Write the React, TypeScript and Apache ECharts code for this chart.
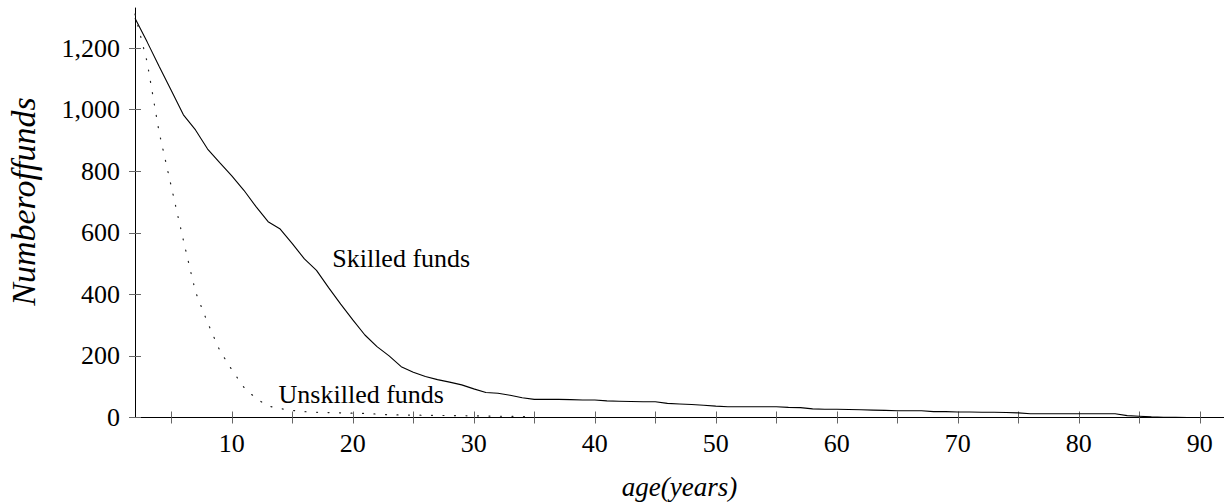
import React, { useEffect, useRef } from "react";
import * as echarts from "echarts";

// Surviving funds by age, skilled managers
const skilledAges = [
  2, 3, 4, 5, 6, 7, 8, 9, 10, 11, 12, 13, 14, 15, 16, 17, 18, 19, 20, 21, 22, 23, 24, 25, 26,
  27, 28, 29, 30, 31, 32, 33, 34, 35, 36, 37, 38, 39, 40, 41, 42, 43, 44, 45, 46, 47, 48, 49,
  50, 51, 52, 53, 54, 55, 56, 57, 58, 59, 60, 61, 62, 63, 64, 65, 66, 67, 68, 69, 70, 71, 72,
  73, 74, 75, 76, 77, 78, 79, 80, 81, 82, 83, 84, 85, 86, 87, 88, 89, 90,
];
const skilledFunds = [
  1297, 1220, 1140, 1062, 983, 934, 872, 828, 785, 738, 685, 636, 612, 565, 515, 478, 422, 368,
  317, 268, 230, 200, 165, 147, 133, 123, 115, 106, 93, 81, 79, 72, 64, 59, 59, 59, 58, 57, 57,
  54, 53, 52, 51, 51, 46, 44, 42, 40, 37, 35, 35, 35, 35, 35, 33, 32, 28, 27, 27, 26, 25, 24,
  23, 22, 22, 22, 19, 19, 18, 18, 17, 17, 16, 15, 12, 12, 12, 12, 12, 12, 12, 12, 6, 4, 2, 1,
  0.5, 0, 0,
];

// Surviving funds by age, unskilled managers
const unskilledAges = [
  2, 3, 4, 5, 6, 7, 8, 9, 10, 11, 12, 13, 14, 15, 16, 17, 18, 19, 20, 21, 22, 23, 24, 25, 26,
  27, 28, 29, 30, 31, 32, 33, 34, 35,
];
const unskilledFunds = [
  1310, 1155, 925, 750, 575, 408, 308, 218, 155, 98, 62, 37, 29, 23, 19, 17, 16, 15, 14, 13, 11,
  9, 8, 8, 7, 7, 6, 6, 5, 5, 4, 4, 3, 3,
];

const xTickValues = [5, 10, 15, 20, 25, 30, 35, 40, 45, 50, 55, 60, 65, 70, 75, 80, 85, 90];
const xLabelValues = [10, 20, 30, 40, 50, 60, 70, 80, 90];
const yTickValues = [0, 200, 400, 600, 800, 1000, 1200];

// Curve annotations, anchored in data coordinates (age, funds)
const curveNotes = [
  { text: "Skilled funds", age: 24.0, funds: 518 },
  { text: "Unskilled funds", age: 20.7, funds: 76 },
];

const SERIF = "Liberation Serif";

export default function App() {
  const ref = useRef<HTMLDivElement>(null);

  useEffect(() => {
    const chart = echarts.init(ref.current!, null, { renderer: "svg" });

    const tickStyle = { color: "#666", width: 1 };
    const labelStyle = { fontFamily: SERIF, fontSize: 26, color: "#000" };

    chart.setOption({
      animation: false,
      backgroundColor: "#fff",
      textStyle: { fontFamily: SERIF },
      grid: {
        left: 135,
        right: 0,
        top: 8,
        bottom: 84.5,
        containLabel: false,
        outerBoundsMode: "none",
      },
      xAxis: [
        {
          type: "value",
          min: 2,
          max: 92,
          position: "bottom",
          axisLine: { show: true, onZero: false, lineStyle: { color: "#000", width: 1 } },
          axisTick: { show: true, length: 6, inside: false, customValues: xTickValues, lineStyle: tickStyle },
          axisLabel: { ...labelStyle, margin: 13, customValues: xLabelValues },
          splitLine: { show: false },
          name: "age(years)",
          nameLocation: "middle",
          nameGap: 56,
          nameTextStyle: { fontFamily: SERIF, fontStyle: "italic", fontSize: 27, color: "#000" },
        },
        {
          type: "value",
          min: 2,
          max: 92,
          position: "bottom",
          axisLine: { show: false },
          axisTick: { show: true, length: 6, inside: true, customValues: xTickValues, lineStyle: tickStyle },
          axisLabel: { show: false },
          splitLine: { show: false },
        },
      ],
      yAxis: [
        {
          type: "value",
          min: 0,
          max: 1330,
          position: "left",
          axisLine: { show: true, onZero: false, lineStyle: { color: "#000", width: 1 } },
          axisTick: { show: true, length: 6, inside: false, customValues: yTickValues, lineStyle: tickStyle },
          axisLabel: {
            ...labelStyle,
            margin: 15,
            customValues: yTickValues,
            formatter: (v: number) => v.toLocaleString("en-US"),
          },
          splitLine: { show: false },
        },
        {
          type: "value",
          min: 0,
          max: 1330,
          position: "left",
          axisLine: { show: false },
          axisTick: { show: true, length: 6, inside: true, customValues: yTickValues, lineStyle: tickStyle },
          axisLabel: { show: false },
          splitLine: { show: false },
        },
      ],
      series: [
        {
          name: "Skilled funds",
          type: "line",
          xAxisIndex: 0,
          yAxisIndex: 0,
          symbol: "none",
          data: skilledAges.map((a, i) => [a, skilledFunds[i]]),
          lineStyle: { color: "#000", width: 1.1 },
        },
        {
          name: "Unskilled funds",
          type: "line",
          xAxisIndex: 0,
          yAxisIndex: 0,
          symbol: "none",
          data: unskilledAges.map((a, i) => [a, unskilledFunds[i]]),
          lineStyle: { color: "#222", width: 1.2, type: [1, 10.5], cap: "round" },
        },
      ],
    });

    const notes = curveNotes.map((n) => {
      const [px, py] = chart.convertToPixel({ gridIndex: 0 }, [n.age, n.funds]) as number[];
      return {
        type: "text",
        x: px,
        y: py,
        style: {
          text: n.text,
          fontFamily: SERIF,
          fontSize: 26,
          fill: "#000",
          align: "center",
          verticalAlign: "middle",
        },
      };
    });

    chart.setOption({
      graphic: [
        ...notes,
        {
          type: "text",
          x: 23,
          y: 201.5,
          rotation: Math.PI / 2,
          style: {
            text: "Numberoffunds",
            fontFamily: SERIF,
            fontStyle: "italic",
            fontSize: 34,
            fill: "#000",
            align: "center",
            verticalAlign: "middle",
          },
        },
      ],
    });

    return () => chart.dispose();
  }, []);

  return (
    <div
      ref={ref}
      style={{ position: "fixed", left: 0, top: 0, width: 1224, height: 502, background: "#fff" }}
    />
  );
}
